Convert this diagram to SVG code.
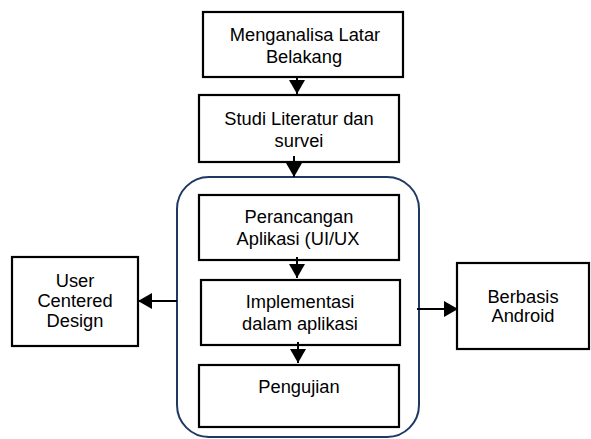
<svg xmlns="http://www.w3.org/2000/svg" width="591" height="439" viewBox="0 0 591 439">
<defs>
<style>
.box{fill:#fff;stroke:#000;stroke-width:2.2}
.cont{fill:none;stroke:#1f3864;stroke-width:2}
.t{font-family:"Liberation Sans",Arial,sans-serif;font-size:18.3px;fill:#000;text-anchor:middle}
.c{stroke:#000;stroke-width:2;fill:none}
</style>
<marker id="ah" markerUnits="userSpaceOnUse" markerWidth="16" markerHeight="16" viewBox="0 0 14 16" refX="14" refY="8" orient="auto">
<path d="M0,0 L14,8 L0,16 Z" fill="#000"/>
</marker>
</defs>
<rect width="591" height="439" fill="#fff"/>
<g id="container"><rect class="cont" x="177" y="177" width="242" height="260" rx="32" ry="32"/></g>
<g id="n1"><rect class="box" x="203" y="12" width="200" height="65"/>
<text class="t" x="305" y="41">Menganalisa Latar</text><text class="t" x="304" y="63">Belakang</text></g>
<g id="n2"><rect class="box" x="199" y="95" width="200" height="67"/>
<text class="t" x="299" y="125">Studi Literatur dan</text><text class="t" x="299" y="147">survei</text></g>
<g id="n3"><rect class="box" x="199" y="195" width="200" height="65"/>
<text class="t" x="299" y="223">Perancangan</text><text class="t" x="298" y="245">Aplikasi (UI/UX</text></g>
<g id="n4"><rect class="box" x="201" y="280" width="199" height="65"/>
<text class="t" x="300" y="308">Implementasi</text><text class="t" x="300" y="330">dalam aplikasi</text></g>
<g id="n5"><rect class="box" x="199" y="365" width="200" height="62"/>
<text class="t" x="299" y="393">Pengujian</text></g>
<g id="n6"><rect class="box" x="12" y="257" width="126" height="89"/>
<text class="t" x="75" y="287">User</text><text class="t" x="75" y="307">Centered</text><text class="t" x="75" y="327">Design</text></g>
<g id="n7"><rect class="box" x="457" y="263" width="132" height="86"/>
<text class="t" x="523" y="303">Berbasis</text><text class="t" x="523" y="322">Android</text></g>
<g id="connectors">
<line class="c" x1="297" y1="77" x2="297" y2="94" marker-end="url(#ah)"/>
<line class="c" x1="294" y1="156" x2="294" y2="177" marker-end="url(#ah)"/>
<line class="c" x1="297" y1="257" x2="297" y2="278" marker-end="url(#ah)"/>
<line class="c" x1="298" y1="342" x2="298" y2="363" marker-end="url(#ah)"/>
<line class="c" x1="177" y1="301" x2="138" y2="301" marker-end="url(#ah)"/>
<line class="c" x1="417" y1="309" x2="458" y2="309" marker-end="url(#ah)"/>
</g>
</svg>
